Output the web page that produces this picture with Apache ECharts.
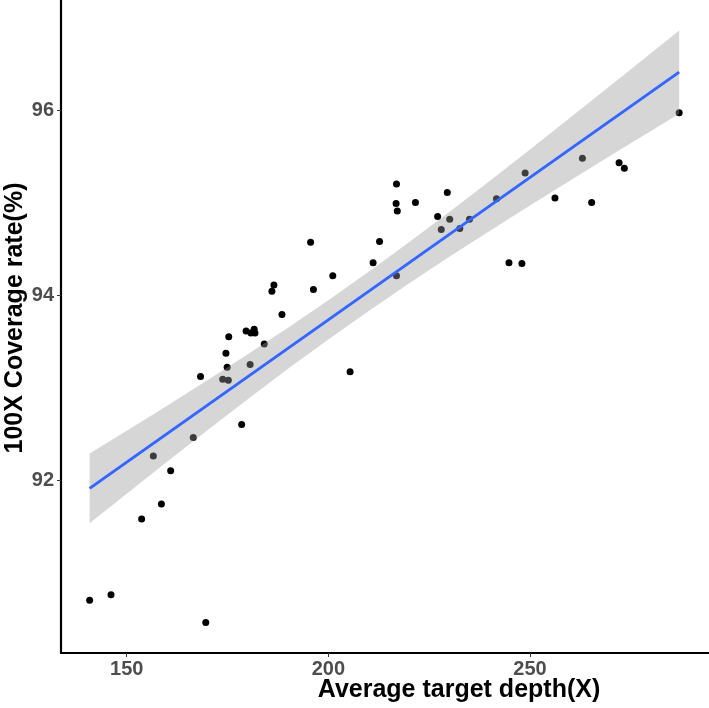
<!DOCTYPE html>
<html>
<head>
<meta charset="utf-8">
<script src="https://cdn.jsdelivr.net/npm/echarts@6/dist/echarts.min.js"></script>
<style>
html,body{margin:0;padding:0;background:#fff;}
#chart{width:709px;height:708px;}
</style>
</head>
<body>
<div id="chart"></div>
<script>
// Scatter data: average target depth (X) vs 100X coverage rate (%)
var depth = [140.8,146.1,169.6,153.7,158.6,160.9,156.6,166.5,178.5,168.3,173.8,175.2,174.9,174.6,175.3,180.6,184.1,205.4,
  179.6,180.8,181.6,181.8,186.0,186.5,188.5,195.6,196.3,201.1,211.1,212.7,216.9,216.9,216.8,217.1,221.6,227.1,229.5,230.1,
  228.0,232.6,235.0,241.7,244.8,248.0,248.8,256.2,263.0,265.3,272.1,273.4,287.0];
var coverage = [90.70,90.76,90.46,91.58,91.74,92.10,92.26,92.46,92.60,93.12,93.09,93.08,93.22,93.37,93.55,93.25,93.47,93.17,
  93.61,93.59,93.63,93.59,94.04,94.11,93.79,94.57,94.06,94.21,94.35,94.58,94.21,95.20,94.99,94.91,95.00,94.85,95.11,94.82,
  94.71,94.72,94.82,95.04,94.35,94.34,95.32,95.05,95.48,95.00,95.43,95.37,95.97];
// Fitted line
var fitX = [140.8, 287.0];
var fitY = [91.91, 96.41];
// Confidence band
var bandX = [140.8, 150, 160, 170, 180, 190, 200, 210, 220, 230, 240, 250, 260, 270, 280, 287.0];
var bandLow = [91.534, 91.853, 92.198, 92.539, 92.874, 93.202, 93.520, 93.828, 94.126, 94.413, 94.693, 94.968, 95.239, 95.508, 95.775, 95.960];
var bandHigh = [92.286, 92.533, 92.804, 93.079, 93.360, 93.646, 93.944, 94.251, 94.570, 94.898, 95.233, 95.574, 95.919, 96.266, 96.615, 96.860];
// Tick labels
var xTicks = [150, 200, 250];
var yTicks = [92, 94, 96];

var points = depth.map(function (d, i) { return [d, coverage[i]]; });
var fitData = fitX.map(function (d, i) { return [d, fitY[i]]; });
var bandData = bandX.map(function (d, i) { return [d, bandLow[i], bandHigh[i]]; });

var chart = echarts.init(document.getElementById('chart'));
var FONT = 'Liberation Sans, Arial, sans-serif';
var labelFont = {fontFamily: FONT, fontWeight: 'bold', fontSize: 20, color: '#4d4d4d'};
chart.setOption({
  animation: false,
  grid: {left: 61, right: 0, top: 0, bottom: 55, containLabel: false},
  xAxis: {
    type: 'value', min: 133.7, max: 294.4,
    splitLine: {show: false},
    axisLine: {show: true, onZero: false, lineStyle: {color: '#000', width: 2.2}},
    axisTick: {show: true, length: 4, customValues: xTicks, lineStyle: {color: '#333', width: 1}},
    axisLabel: Object.assign({customValues: xTicks, margin: 6}, labelFont)
  },
  yAxis: {
    type: 'value', min: 90.13, max: 97.19,
    splitLine: {show: false},
    axisLine: {show: true, onZero: false, lineStyle: {color: '#000', width: 2.2}},
    axisTick: {show: true, length: 4, customValues: yTicks, lineStyle: {color: '#333', width: 1}},
    axisLabel: Object.assign({customValues: yTicks, margin: 7}, labelFont)
  },
  graphic: [
    {type: 'text', x: 459, y: 690, z: 100, style: {text: 'Average target depth(X)', fontFamily: FONT, fontWeight: 'bold', fontSize: 25, fill: '#000', align: 'center', verticalAlign: 'middle'}},
    {type: 'text', x: 15, y: 318, rotation: Math.PI / 2, z: 100, style: {text: '100X Coverage rate(%)', fontFamily: FONT, fontWeight: 'bold', fontSize: 25, fill: '#000', align: 'center', verticalAlign: 'middle'}}
  ],
  series: [
    {type: 'scatter', data: points, symbolSize: 7, itemStyle: {color: '#000', opacity: 1}, z: 1},
    {type: 'custom', data: bandData, z: 2, silent: true, clip: true,
     renderItem: function (params, api) {
       if (params.dataIndex !== 0) return null;
       var upper = [], lower = [];
       for (var i = 0; i < bandX.length; i++) {
         upper.push(api.coord([bandX[i], bandHigh[i]]));
         lower.unshift(api.coord([bandX[i], bandLow[i]]));
       }
       return {type: 'polygon', shape: {points: upper.concat(lower)},
               style: {fill: 'rgba(153,153,153,0.4)', stroke: null}};
     }},
    {type: 'line', data: fitData, symbol: 'none', lineStyle: {color: '#3366FF', width: 3}, z: 3}
  ]
});
</script>
</body>
</html>
